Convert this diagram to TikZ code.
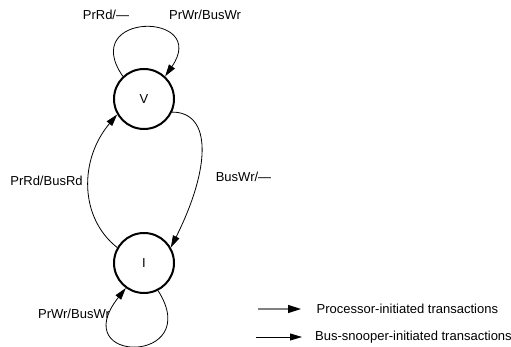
\documentclass[tikz,border=0pt]{standalone}
\usepackage{fontspec}
\setmainfont{Liberation Sans}
\usepackage{tikz}
\usetikzlibrary{arrows.meta, positioning, calc}

\begin{document}
\begin{tikzpicture}[x=1pt, y=-1pt, font=\fontsize{13}{15}\selectfont]
    % Node Styles
    \tikzstyle{state} = [circle, draw, line width=2pt, minimum size=60pt, inner sep=0pt]
    \tikzstyle{lbl} = [inner sep=0pt]
    \tikzstyle{line} = [draw, line width=0.8pt, -{Triangle[length=12pt, width=7pt]}]
    \tikzstyle{procline} = [draw, line width=1.4pt, gray, -{Triangle[length=13pt, width=8pt, color=black]}]

    \useasboundingbox (0,0) rectangle (511,347);

    % --- STATES ---
    \node [state] (V) at (144,99) {V};
    \node [state] (I) at (144,263) {I};

    % --- LABELS ---
    \node [lbl] (prrd) at (106,15) {PrRd/—};
    \node [lbl] (prwrtop) at (205,15) {PrWr/BusWr};
    \node [lbl] (prrdbus) at (46.5,181) {PrRd/BusRd};
    \node [lbl] (buswr) at (243.5,177) {BusWr/—};
    \node [lbl] (prwrbot) at (74,314) {PrWr/BusWr};

    % --- PATHS ---
    \path [line] (V.133) .. controls +(-45,-65) and +(45,-65) .. (V.47);
    \path [line] (V.-25) .. controls +(40,0) and +(40,-80) .. (I.30);
    \path [line] (I.150) .. controls +(-38,-30) and +(-38,45) .. (V.210);
    \path [line] (I.-63) .. controls +(47,74) and +(-61,77) .. (I.-126);

    % --- LEGEND ---
    \node [lbl, anchor=west] (proc) at (316.5,309) {Processor-initiated transactions};
    \node [lbl, anchor=west] (bus) at (315,337) {Bus-snooper-initiated transactions};
    \coordinate (procstart) at (258,309);
    \coordinate (procend) at (301,309);
    \coordinate (busstart) at (256,337);
    \coordinate (busend) at (302,337);
    \path [procline] (procstart) -- (procend);
    \path [line] (busstart) -- (busend);

\end{tikzpicture}
\end{document}
